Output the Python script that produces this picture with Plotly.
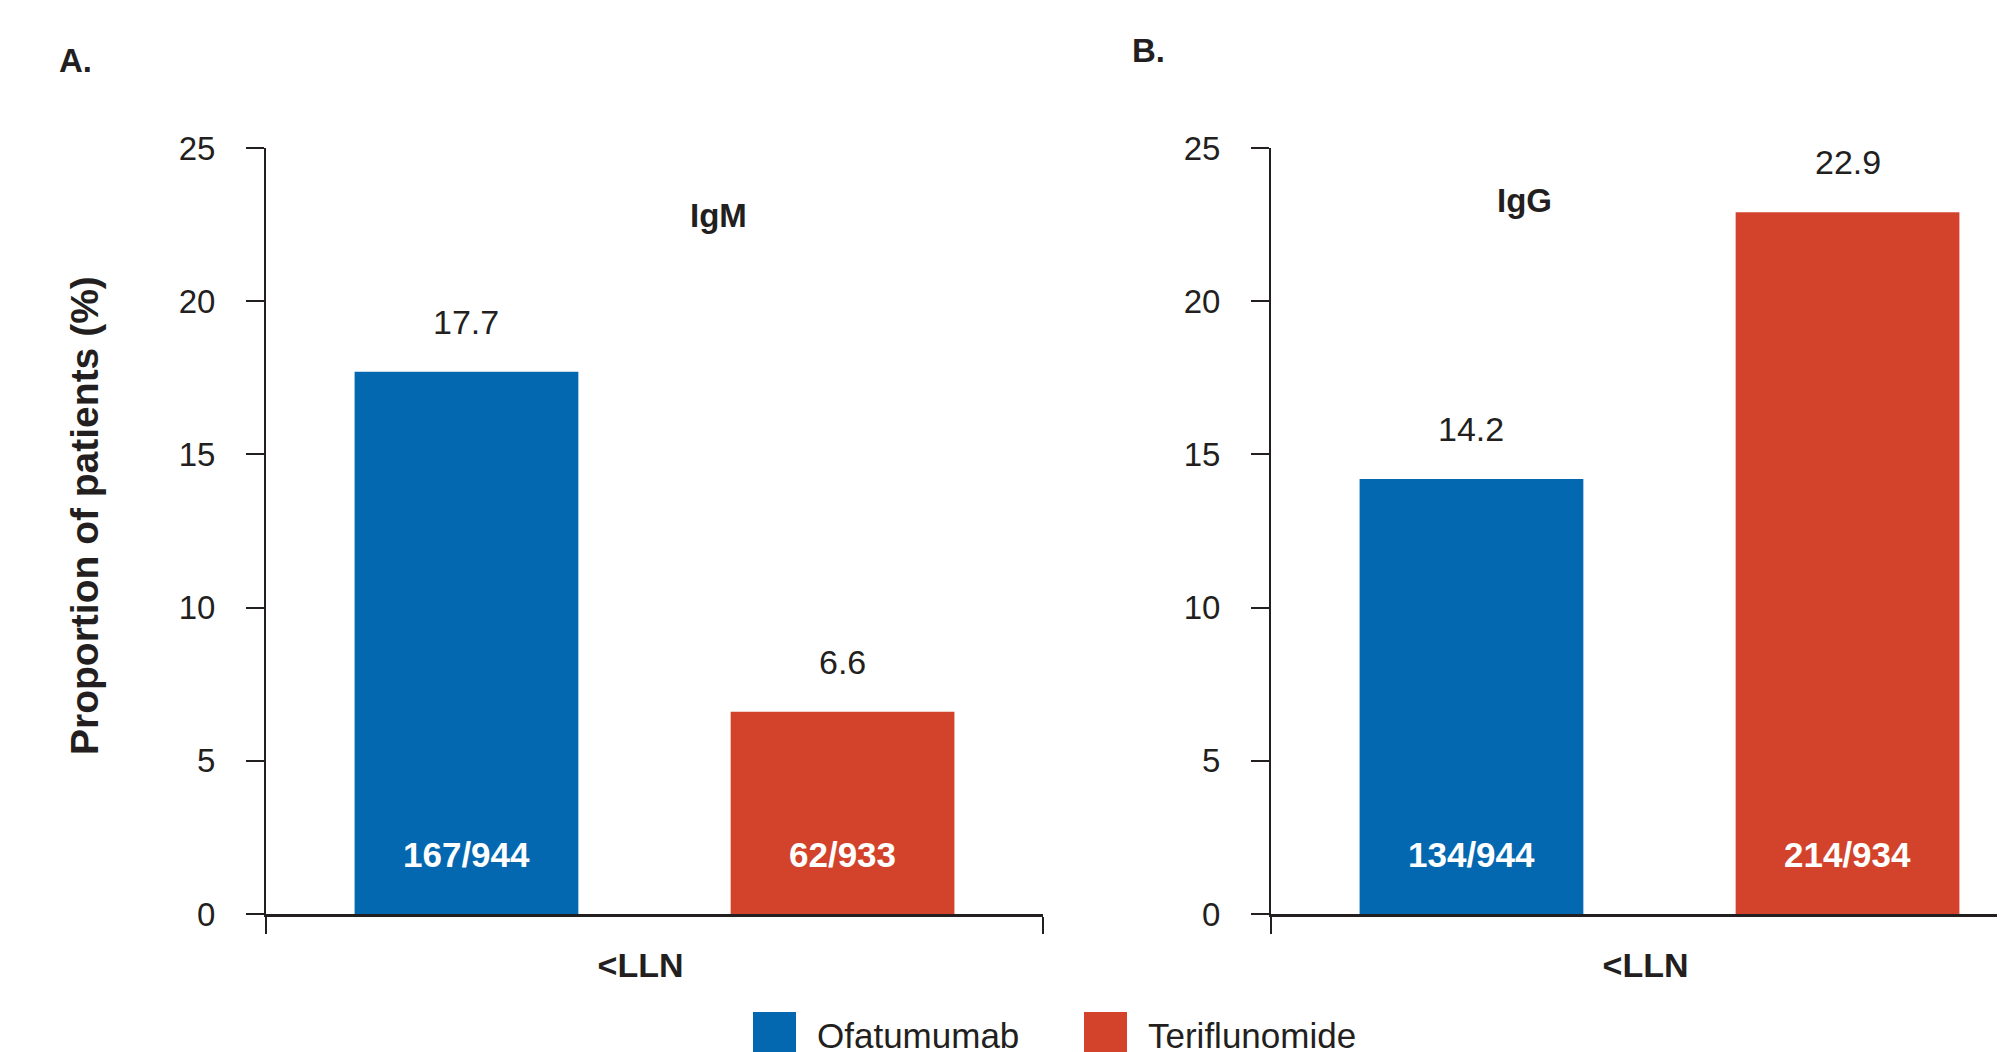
import plotly.graph_objects as go

# ---- data ----
categories = ["<LLN"]
series_names = ["Ofatumumab", "Teriflunomide"]
igm_values = [17.7, 6.6]
igg_values = [14.2, 22.9]
igm_counts = ["167/944", "62/933"]
igg_counts = ["134/944", "214/934"]
panel_titles = ["IgM", "IgG"]
panel_letters = ["A.", "B."]
y_ticks = [0, 5, 10, 15, 20, 25]

# ---- style ----
OFF = 8  # default page body margin
W, H = 2005 - OFF, 1052 - OFF
# reference page pixel positions of the plot frame
A_LEFT, A_RIGHT, B_LEFT = 266, 1043, 1271
TOP, BOTTOM = 148, 914
ML = A_LEFT - OFF
MT = TOP - OFF
MB = H - (BOTTOM - OFF)
MR = 0
colors = ["#0468B1", "#D3432B"]
TXT = "#231F20"
FONT = "Arial, Liberation Sans, Helvetica, sans-serif"
BARGAP = 0.032
BARGROUPGAP = 0.405

PW = W - ML - MR
PH = H - MT - MB


def px2x(px):
    return (px - OFF - ML) / PW


def px2y(py):
    return (H - MB - (py - OFF)) / PH


a_dom = [0, px2x(A_RIGHT)]
b_dom = [px2x(B_LEFT), 1.0]
unit_px = (a_dom[1] - a_dom[0]) * PW
b_range_end = -0.5 + (b_dom[1] - b_dom[0]) * PW / unit_px

fig = go.Figure()
for i, name in enumerate(series_names):
    fig.add_trace(go.Bar(x=categories, y=[igm_values[i]], name=name,
                         marker=dict(color=colors[i], line=dict(width=0)),
                         xaxis="x", yaxis="y", showlegend=False))
for i, name in enumerate(series_names):
    fig.add_trace(go.Bar(x=categories, y=[igg_values[i]], name=name,
                         marker=dict(color=colors[i], line=dict(width=0)),
                         xaxis="x2", yaxis="y2", showlegend=False))

annotations = []
offset = (1 - BARGAP) / 4
for ax, vals, counts in (("", igm_values, igm_counts), ("2", igg_values, igg_counts)):
    for i, v in enumerate(vals):
        xc = (i - 0.5) * 2 * offset
        annotations.append(dict(xref="x" + ax, yref="y" + ax, x=xc, y=v,
                                text=f"{v:.1f}", showarrow=False, yanchor="middle",
                                yshift=50, font=dict(size=34, color=TXT, family=FONT)))
        annotations.append(dict(xref="x" + ax, yref="y" + ax, x=xc, y=0,
                                text=counts[i], showarrow=False, yanchor="middle",
                                yshift=60, font=dict(size=35, color="white", family=FONT,
                                                     weight="bold")))

# panel titles
annotations.append(dict(xref="x", yref="y", x=0.083, y=22.8, text=panel_titles[0],
                        showarrow=False, font=dict(size=33, color=TXT, family=FONT, weight="bold")))
annotations.append(dict(xref="x2", yref="y2", x=-0.174, y=23.3, text=panel_titles[1],
                        showarrow=False, font=dict(size=33, color=TXT, family=FONT, weight="bold")))
# panel letters
annotations.append(dict(xref="paper", yref="paper", x=px2x(57), y=px2y(60), xanchor="left",
                        yanchor="middle", text=panel_letters[0], showarrow=False,
                        font=dict(size=33, color=TXT, family=FONT, weight="bold")))
annotations.append(dict(xref="paper", yref="paper", x=px2x(1130), y=px2y(51), xanchor="left",
                        yanchor="middle", text=panel_letters[1], showarrow=False,
                        font=dict(size=33, color=TXT, family=FONT, weight="bold")))
# y title
annotations.append(dict(xref="paper", yref="paper", x=px2x(85), y=px2y(516), textangle=-90,
                        text="Proportion of patients (%)", showarrow=False,
                        xanchor="center", yanchor="middle",
                        font=dict(size=39, color=TXT, family=FONT, weight="bold")))

# legend (manual)
shapes = []
leg_sq = [753, 1084]
for i, name in enumerate(series_names):
    x0 = leg_sq[i]
    shapes.append(dict(type="rect", xref="paper", yref="paper",
                       x0=px2x(x0), x1=px2x(x0 + 43), y0=px2y(1012), y1=px2y(1060),
                       fillcolor=colors[i], line=dict(width=0)))
    annotations.append(dict(xref="paper", yref="paper", x=px2x(x0 + 62), y=px2y(1035),
                            xanchor="left", yanchor="middle", text=name, showarrow=False,
                            font=dict(size=35, color=TXT, family=FONT)))

xaxis_common = dict(type="category", showline=True, linecolor=TXT, linewidth=3,
                    ticks="outside", ticklen=17, tickwidth=2, tickcolor=TXT,
                    tickson="boundaries", showgrid=False, zeroline=False,
                    tickfont=dict(size=34, color=TXT, family=FONT, weight="bold"),
                    ticklabelshift=-14, ticklabelstandoff=19, fixedrange=True)
yaxis_common = dict(range=[0, 25], tickvals=y_ticks, showline=True, linecolor=TXT,
                    linewidth=2, ticks="outside", ticklen=18, tickwidth=2, tickcolor=TXT,
                    showgrid=False, zeroline=False, ticklabelstandoff=24,
                    tickfont=dict(size=33, color=TXT, family=FONT))

fig.update_layout(
    width=W, height=H,
    margin=dict(l=ML, r=MR, t=MT, b=MB, pad=0),
    plot_bgcolor="white", paper_bgcolor="white",
    barmode="group", bargap=BARGAP, bargroupgap=BARGROUPGAP,
    xaxis=dict(domain=a_dom, range=[-0.5, 0.5], anchor="y", **xaxis_common),
    yaxis=dict(domain=[0, 1], anchor="x", **yaxis_common),
    xaxis2=dict(domain=b_dom, range=[-0.5, b_range_end], anchor="y2", **xaxis_common),
    yaxis2=dict(domain=[0, 1], anchor="x2", **yaxis_common),
    annotations=annotations, shapes=shapes,
    font=dict(family=FONT, color=TXT),
)

fig.write_html("out.html")
